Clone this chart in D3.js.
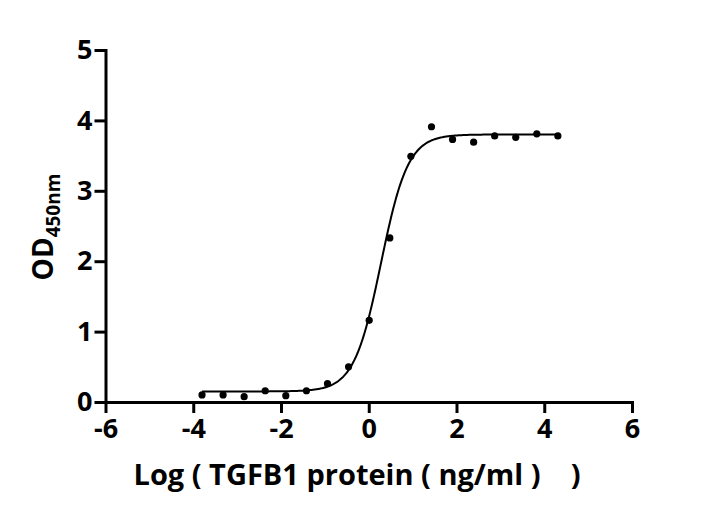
<!DOCTYPE html>
<html>
<head>
<meta charset="utf-8">
<script src="https://cdn.jsdelivr.net/npm/d3@7"></script>
<style>
  body { margin: 0; background: #fff; }
  svg text { font-family: "Open Sans", "Noto Sans", sans-serif; font-weight: bold; fill: #000; }
  .axis path, .axis line { stroke: #000; stroke-width: 3; }
</style>
</head>
<body>
<div id="chart"></div>
<script>
// Measured points: log concentration (ng/ml) and OD450
const logConc = [-3.80, -3.32, -2.84, -2.36, -1.89, -1.42, -0.94, -0.46, 0.01,
                 0.48, 0.96, 1.43, 1.91, 2.39, 2.87, 3.35, 3.83, 4.31];
const od450 = [0.10, 0.10, 0.075, 0.16, 0.09, 0.16, 0.26, 0.50, 1.16,
               2.33, 3.49, 3.91, 3.73, 3.69, 3.78, 3.76, 3.81, 3.78];

// Fitted 4-parameter logistic curve
const fitBottom = 0.15, fitTop = 3.80, fitLogEC50 = 0.28, fitHill = 1.41;

const xTicks = [-6, -4, -2, 0, 2, 4, 6];
const yTicks = [0, 1, 2, 3, 4, 5];

function createChart() {
    const W = 721, H = 520;
    const svg = d3.select("#chart").append("svg")
        .attr("width", W)
        .attr("height", H);

    const xScale = d3.scaleLinear().domain([-6, 6]).range([105.5, 632]);
    const yScale = d3.scaleLinear().domain([0, 5]).range([402, 50]);
    const fmt = d => String(d); // plain hyphen, no decimals

    // Axes
    const xAxis = svg.append("g")
        .attr("class", "axis")
        .attr("transform", `translate(0,${yScale(0)})`)
        .call(d3.axisBottom(xScale).tickValues(xTicks).tickFormat(fmt)
            .tickSize(11).tickSizeOuter(0).tickPadding(6));
    xAxis.selectAll("text").style("font-size", "27px");

    const yAxis = svg.append("g")
        .attr("class", "axis")
        .attr("transform", `translate(${xScale(-6)},0)`)
        .call(d3.axisLeft(yScale).tickValues(yTicks).tickFormat(fmt)
            .tickSize(11).tickSizeOuter(0).tickPadding(2));
    yAxis.selectAll("text").style("font-size", "27px");
    svg.selectAll(".axis .domain").attr("stroke-linecap", "square");

    // Fitted curve
    const fit = x => fitBottom + (fitTop - fitBottom) / (1 + Math.pow(10, (fitLogEC50 - x) * fitHill));
    const xs = d3.range(d3.min(logConc), d3.max(logConc) + 0.001, 0.02);
    const line = d3.line()
        .x(d => xScale(d))
        .y(d => yScale(fit(d)));
    svg.append("path")
        .datum(xs)
        .attr("fill", "none")
        .attr("stroke", "#000")
        .attr("stroke-width", 2)
        .attr("d", line);

    // Points
    svg.selectAll(".dot")
        .data(logConc)
        .enter().append("circle")
        .attr("class", "dot")
        .attr("cx", d => xScale(d))
        .attr("cy", (d, i) => yScale(od450[i]))
        .attr("r", 3.6)
        .attr("fill", "#000");

    // Axis titles
    svg.append("text")
        .attr("x", 357)
        .attr("y", 485)
        .attr("text-anchor", "middle")
        .style("font-size", "29px")
        .style("white-space", "pre")
        .text("Log ( TGFB1 protein ( ng/ml )    )");

    const yt = svg.append("text")
        .attr("transform", "translate(53,227) rotate(-90)")
        .attr("text-anchor", "middle")
        .style("font-size", "28px");
    yt.append("tspan").text("OD");
    yt.append("tspan").attr("dy", 7).style("font-size", "19px").text("450nm");
}

createChart();
</script>
</body>
</html>
